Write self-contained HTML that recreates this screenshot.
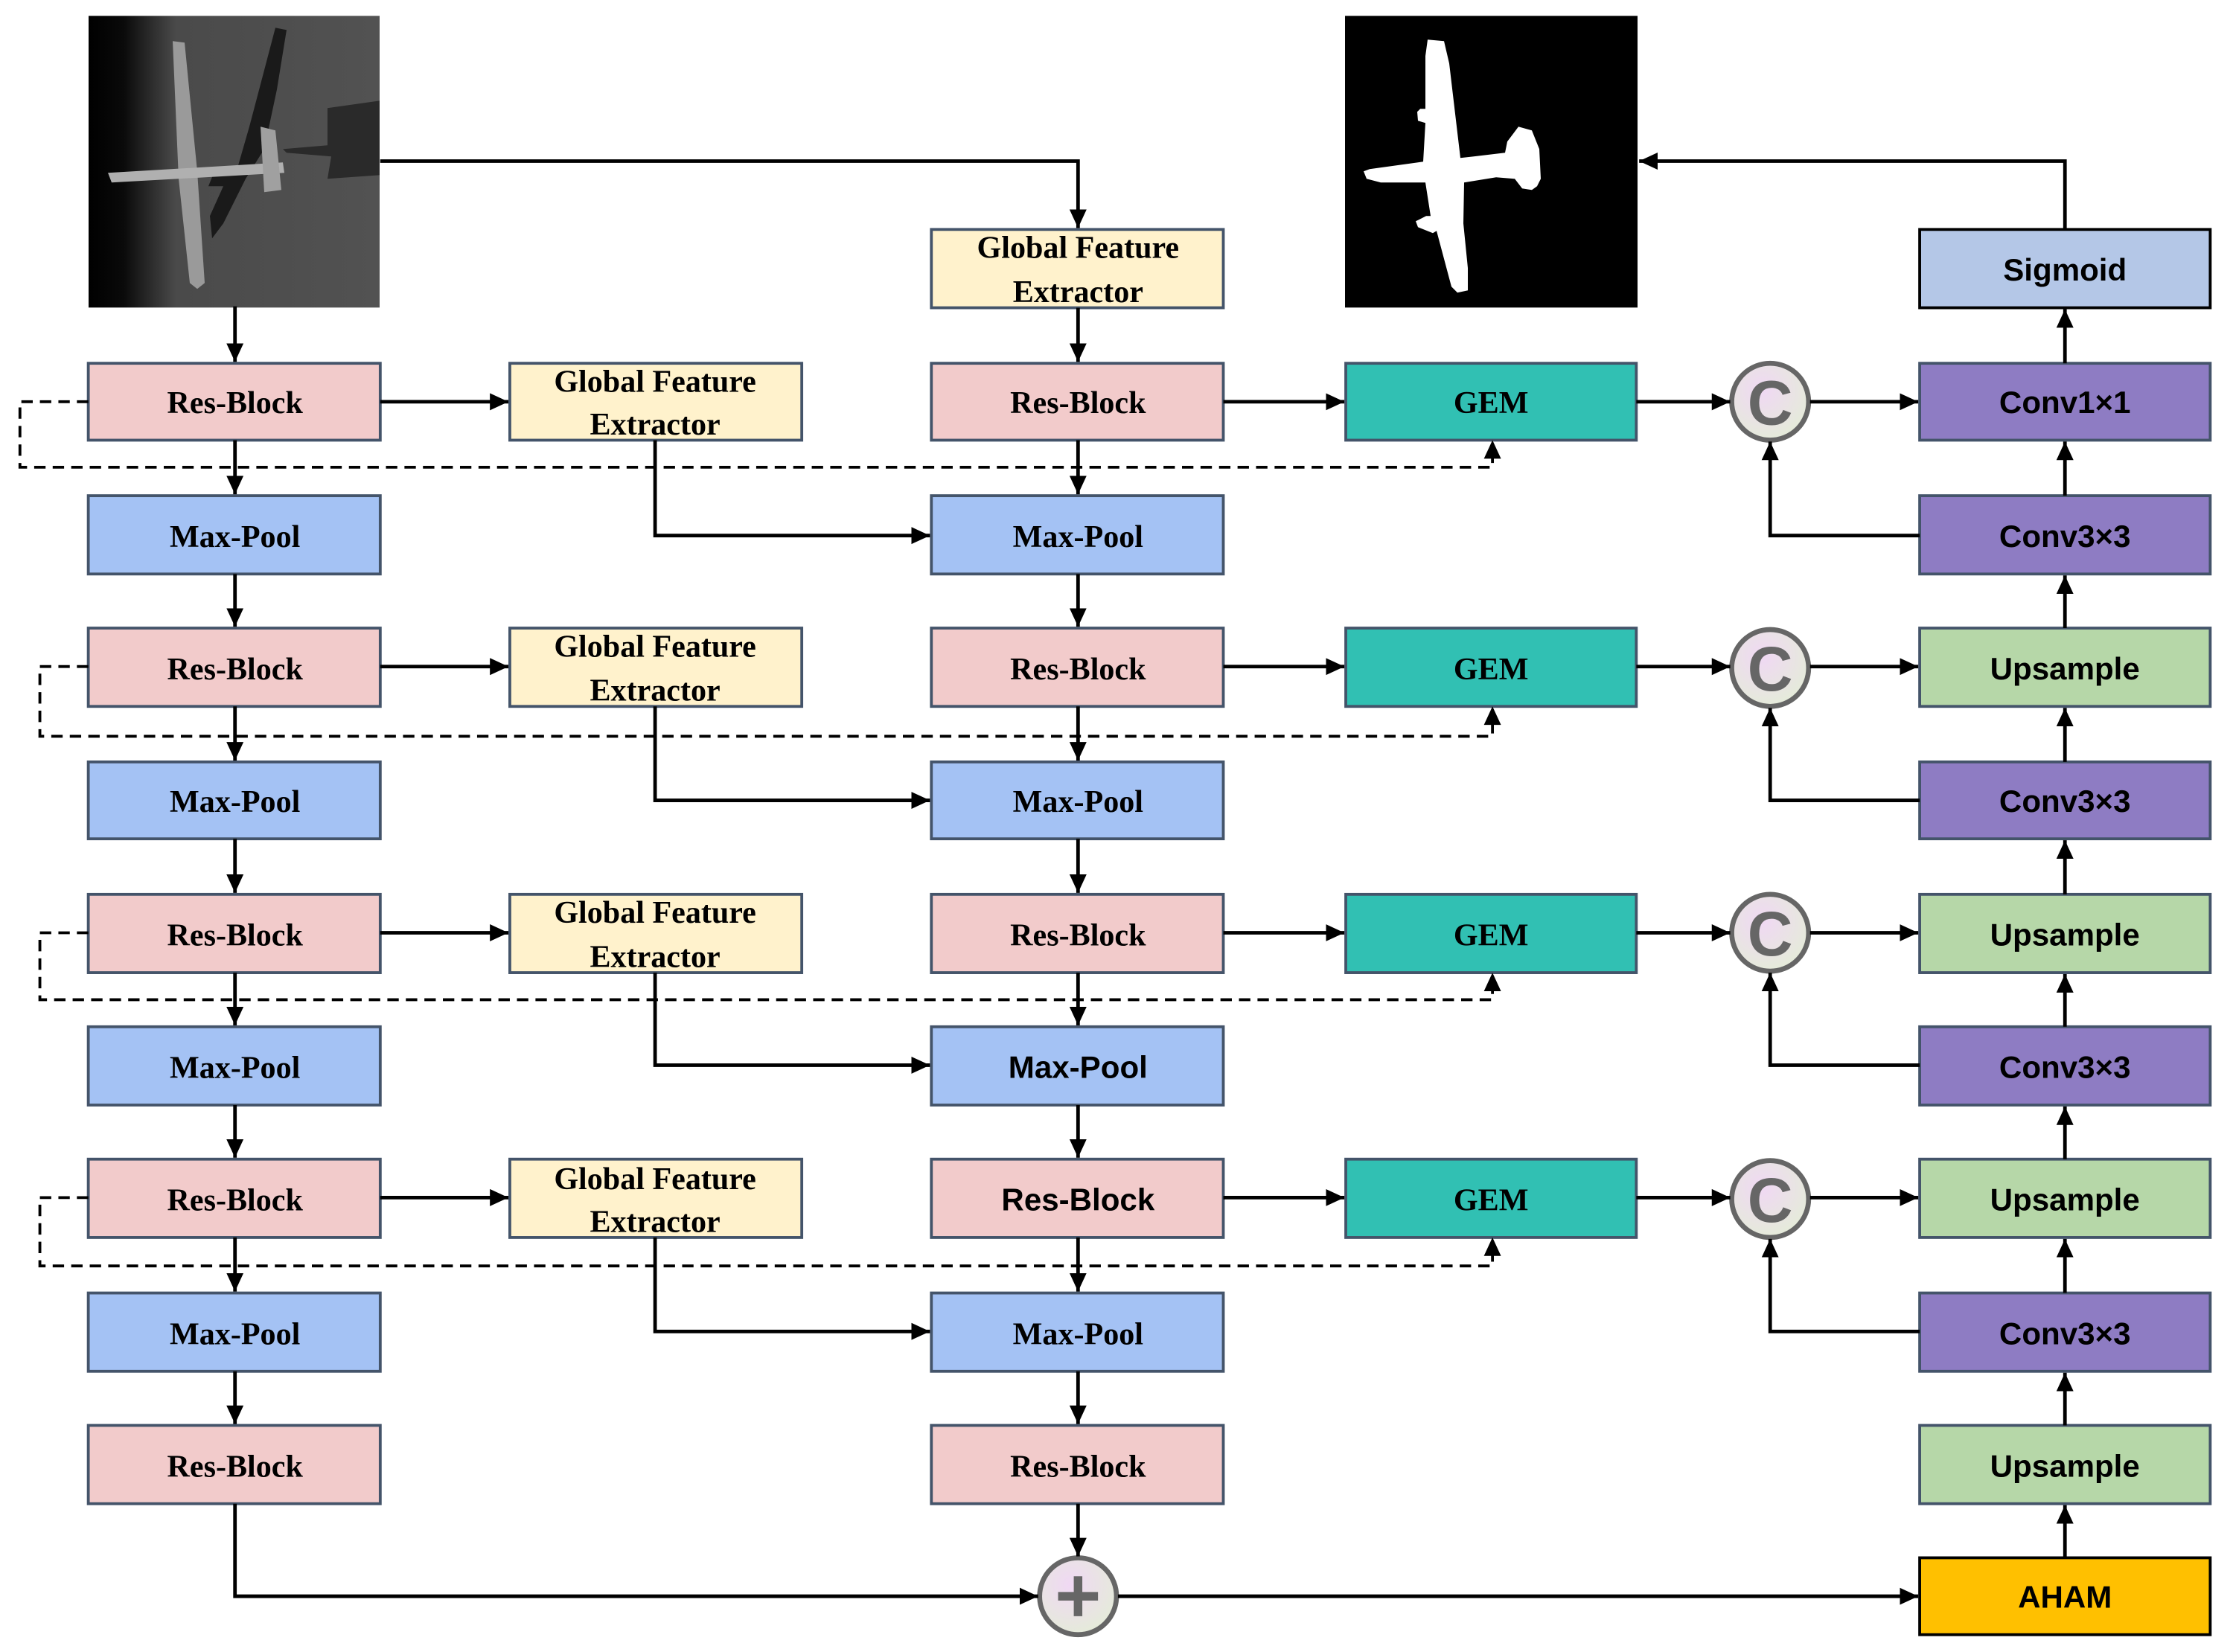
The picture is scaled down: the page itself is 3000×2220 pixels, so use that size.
<!DOCTYPE html>
<html><head><meta charset="utf-8"><style>
html,body{margin:0;padding:0;background:#fff;}
svg{display:block;}
.s{font-family:"Liberation Serif",serif;font-weight:bold;font-size:22px;}
.a{font-family:"Liberation Sans",sans-serif;font-weight:bold;font-size:22px;}
.c{font-family:"Liberation Sans",sans-serif;font-weight:bold;font-size:44px;}
</style></head><body>
<svg width="3000" height="2220" viewBox="0 0 1568 1160" xmlns="http://www.w3.org/2000/svg">
<defs>
<marker id="ar" markerUnits="userSpaceOnUse" markerWidth="14" markerHeight="14" refX="13" refY="7" orient="auto"><path d="M0,1 L13,7 L0,13 Z" fill="#000"/></marker>
<linearGradient id="sar" x1="0" y1="0" x2="1" y2="0"><stop offset="0" stop-color="#000"/><stop offset="0.12" stop-color="#0a0a0a"/><stop offset="0.3" stop-color="#4a4a4a"/><stop offset="1" stop-color="#525252"/></linearGradient>
<radialGradient id="cg" cx="0.4" cy="0.35" r="0.7"><stop offset="0" stop-color="#f0d8f4"/><stop offset="1" stop-color="#e4ecd8"/></radialGradient>
</defs>

<!-- input SAR image -->
<g transform="scale(0.52267)">
<rect x="119" y="21" width="391" height="392" fill="url(#sar)"/>
<path d="M370,37 L385,40 L372,120 L355,200 L330,240 L300,300 L285,320 L282,290 L300,250 L280,250 L290,225 L320,222 L335,170 Z" fill="#1a1a1a"/>
<path d="M440,145 L510,135 L510,235 L440,240 L445,210 L385,205 L380,200 L440,195 Z" fill="#2a2a2a"/>
<path d="M232,55 L248,57 L265,230 L275,380 L265,388 L255,380 L240,240 Z" fill="#9a9a9a"/>
<path d="M145,232 L380,218 L382,232 L150,245 Z" fill="#b0b0b0"/>
<path d="M350,170 L370,175 L378,255 L355,258 Z" fill="#a0a0a0"/>
</g>

<!-- output mask -->
<g transform="scale(0.52267)">
<rect x="1807" y="21" width="393" height="392" fill="#000"/>
<path d="M1918,53 L1940,55 L1947,85 L1962,212 L1980,210 L2022,205 L2025,190 L2040,170 L2058,175 L2068,200 L2070,240 L2065,250 L2058,255 L2045,253 L2035,240 L2010,238 L1967,245 L1966,300 L1972,360 L1972,390 L1958,393 L1950,385 L1930,310 L1925,313 L1905,305 L1902,297 L1916,290 L1922,290 L1915,245 L1855,245 L1836,240 L1832,230 L1840,227 L1912,217 L1915,165 L1905,162 L1904,150 L1908,146 L1915,146 L1915,75 Z" fill="#fff"/>
</g>

<g stroke="#44546a" stroke-width="2">
<rect x="62" y="255" width="205" height="54" fill="#f2cbcb"/>
<rect x="62" y="348" width="205" height="55" fill="#a4c2f4"/>
<rect x="62" y="441" width="205" height="55" fill="#f2cbcb"/>
<rect x="62" y="535" width="205" height="54" fill="#a4c2f4"/>
<rect x="62" y="628" width="205" height="55" fill="#f2cbcb"/>
<rect x="62" y="721" width="205" height="55" fill="#a4c2f4"/>
<rect x="62" y="814" width="205" height="55" fill="#f2cbcb"/>
<rect x="62" y="908" width="205" height="55" fill="#a4c2f4"/>
<rect x="62" y="1001" width="205" height="55" fill="#f2cbcb"/>
<rect x="358" y="255" width="205" height="54" fill="#fff2cc"/>
<rect x="358" y="441" width="205" height="55" fill="#fff2cc"/>
<rect x="358" y="628" width="205" height="55" fill="#fff2cc"/>
<rect x="358" y="814" width="205" height="55" fill="#fff2cc"/>
<rect x="654" y="161" width="205" height="55" fill="#fff2cc"/>
<rect x="654" y="255" width="205" height="54" fill="#f2cbcb"/>
<rect x="654" y="348" width="205" height="55" fill="#a4c2f4"/>
<rect x="654" y="441" width="205" height="55" fill="#f2cbcb"/>
<rect x="654" y="535" width="205" height="54" fill="#a4c2f4"/>
<rect x="654" y="628" width="205" height="55" fill="#f2cbcb"/>
<rect x="654" y="721" width="205" height="55" fill="#a4c2f4"/>
<rect x="654" y="814" width="205" height="55" fill="#f2cbcb"/>
<rect x="654" y="908" width="205" height="55" fill="#a4c2f4"/>
<rect x="654" y="1001" width="205" height="55" fill="#f2cbcb"/>
<rect x="945" y="255" width="204" height="54" fill="#31c0b3"/>
<rect x="945" y="441" width="204" height="55" fill="#31c0b3"/>
<rect x="945" y="628" width="204" height="55" fill="#31c0b3"/>
<rect x="945" y="814" width="204" height="55" fill="#31c0b3"/>
<rect x="1348" y="255" width="204" height="54" fill="#8e7cc3"/>
<rect x="1348" y="348" width="204" height="55" fill="#8e7cc3"/>
<rect x="1348" y="441" width="204" height="55" fill="#b6d7a8"/>
<rect x="1348" y="535" width="204" height="54" fill="#8e7cc3"/>
<rect x="1348" y="628" width="204" height="55" fill="#b6d7a8"/>
<rect x="1348" y="721" width="204" height="55" fill="#8e7cc3"/>
<rect x="1348" y="814" width="204" height="55" fill="#b6d7a8"/>
<rect x="1348" y="908" width="204" height="55" fill="#8e7cc3"/>
<rect x="1348" y="1001" width="204" height="55" fill="#b6d7a8"/>
</g>
<rect x="1348" y="161" width="204" height="55" fill="#b4c7e7" stroke="#000" stroke-width="2"/>
<rect x="1348" y="1094" width="204" height="54" fill="#ffc000" stroke="#000" stroke-width="2"/>

<g stroke="#666" stroke-width="3.5" fill="url(#cg)">
<circle cx="1243" cy="282" r="27"/>
<circle cx="1243" cy="469" r="27"/>
<circle cx="1243" cy="655" r="27"/>
<circle cx="1243" cy="842" r="27"/>
<circle cx="757" cy="1121" r="27"/>
</g>
<g class="c" fill="#666" text-anchor="middle">
<text x="1243" y="298">C</text><text x="1243" y="485">C</text><text x="1243" y="671">C</text><text x="1243" y="858">C</text>
</g>
<path d="M757,1107 V1135 M743,1121 H771" stroke="#666" stroke-width="6"/>

<g stroke="#000" stroke-width="2.5" fill="none" marker-end="url(#ar)">
<path d="M165,215 V254"/>
<path d="M165,309 V347"/><path d="M165,403 V440"/><path d="M165,496 V534"/><path d="M165,589 V627"/><path d="M165,683 V720"/><path d="M165,776 V813"/><path d="M165,869 V907"/><path d="M165,963 V1000"/>
<path d="M267,113 H757 V160"/>
<path d="M757,216 V254"/><path d="M757,309 V347"/><path d="M757,403 V440"/><path d="M757,496 V534"/><path d="M757,589 V627"/><path d="M757,683 V720"/><path d="M757,776 V813"/><path d="M757,869 V907"/><path d="M757,963 V1000"/><path d="M757,1056 V1093"/>
<path d="M267,282 H357"/><path d="M267,468 H357"/><path d="M267,655 H357"/><path d="M267,841 H357"/>
<path d="M460,309 V376 H653"/><path d="M460,496 V562 H653"/><path d="M460,683 V748 H653"/><path d="M460,869 V935 H653"/>
<path d="M859,282 H944"/><path d="M859,468 H944"/><path d="M859,655 H944"/><path d="M859,841 H944"/>
<path d="M1149,282 H1215"/><path d="M1149,468 H1215"/><path d="M1149,655 H1215"/><path d="M1149,841 H1215"/>
<path d="M1271,282 H1347"/><path d="M1271,468 H1347"/><path d="M1271,655 H1347"/><path d="M1271,841 H1347"/>
<path d="M1348,376 H1243 V310"/><path d="M1348,562 H1243 V497"/><path d="M1348,748 H1243 V683"/><path d="M1348,935 H1243 V870"/>
<path d="M1450,1094 V1057"/><path d="M1450,1001 V964"/><path d="M1450,908 V870"/><path d="M1450,814 V777"/><path d="M1450,721 V684"/><path d="M1450,628 V590"/><path d="M1450,535 V497"/><path d="M1450,441 V404"/><path d="M1450,348 V310"/><path d="M1450,255 V217"/>
<path d="M1450,161 V113 H1151"/>
<path d="M165,1056 V1121 H729"/>
<path d="M785,1121 H1347"/>
</g>

<g stroke="#000" stroke-width="2" fill="none" stroke-dasharray="8,5">
<path d="M62,282 H14 V328 H1048 V318"/>
<path d="M62,468 H28 V517 H1048 V505"/>
<path d="M62,655 H28 V702 H1048 V692"/>
<path d="M62,841 H28 V889 H1048 V879"/>
</g>
<g fill="#000">
<path d="M1048,309 L1042,322 L1054,322 Z"/>
<path d="M1048,496 L1042,509 L1054,509 Z"/>
<path d="M1048,683 L1042,696 L1054,696 Z"/>
<path d="M1048,869 L1042,882 L1054,882 Z"/>
</g>

<g class="s" text-anchor="middle" fill="#000">
<text x="165" y="290">Res-Block</text><text x="165" y="384">Max-Pool</text><text x="165" y="477">Res-Block</text><text x="165" y="570">Max-Pool</text><text x="165" y="664">Res-Block</text><text x="165" y="757">Max-Pool</text><text x="165" y="850">Res-Block</text><text x="165" y="944">Max-Pool</text><text x="165" y="1037">Res-Block</text>
<text x="460" y="275">Global Feature</text><text x="460" y="305">Extractor</text>
<text x="460" y="461">Global Feature</text><text x="460" y="492">Extractor</text>
<text x="460" y="648">Global Feature</text><text x="460" y="679">Extractor</text>
<text x="460" y="835">Global Feature</text><text x="460" y="865">Extractor</text>
<text x="757" y="181">Global Feature</text><text x="757" y="212">Extractor</text>
<text x="757" y="290">Res-Block</text><text x="757" y="384">Max-Pool</text><text x="757" y="477">Res-Block</text><text x="757" y="570">Max-Pool</text><text x="757" y="664">Res-Block</text><text x="757" y="944">Max-Pool</text><text x="757" y="1037">Res-Block</text>
<text x="1047" y="290">GEM</text><text x="1047" y="477">GEM</text><text x="1047" y="664">GEM</text><text x="1047" y="850">GEM</text>
</g>
<g class="a" text-anchor="middle" fill="#000">
<text x="757" y="757">Max-Pool</text><text x="757" y="850">Res-Block</text>
<text x="1450" y="197">Sigmoid</text>
<text x="1450" y="290">Conv1×1</text>
<text x="1450" y="384">Conv3×3</text>
<text x="1450" y="477">Upsample</text>
<text x="1450" y="570">Conv3×3</text>
<text x="1450" y="664">Upsample</text>
<text x="1450" y="757">Conv3×3</text>
<text x="1450" y="850">Upsample</text>
<text x="1450" y="944">Conv3×3</text>
<text x="1450" y="1037">Upsample</text>
<text x="1450" y="1129">AHAM</text>
</g>
</svg>
</body></html>
